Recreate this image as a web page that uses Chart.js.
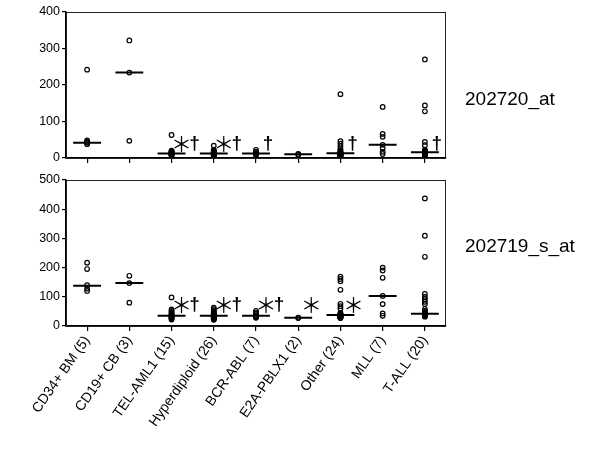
<!DOCTYPE html>
<html>
<head>
<meta charset="utf-8">
<script src="https://cdn.jsdelivr.net/npm/chart.js@4.4.1/dist/chart.umd.min.js"></script>
<style>
  html, body { margin: 0; padding: 0; background: #fff; }
  #wrap { position: relative; width: 600px; height: 450px; }
  canvas { position: absolute; left: 0; top: 0; }
</style>
</head>
<body>
<div id="wrap">
  <canvas id="c1" width="600" height="450"></canvas>
  <canvas id="c2" width="600" height="450"></canvas>
</div>
<script>
// ---- Data ----
const categories = ['CD34+ BM (5)', 'CD19+ CB (3)', 'TEL-AML1 (15)', 'Hyperdiploid (26)', 'BCR-ABL (7)', 'E2A-PBLX1 (2)', 'Other (24)', 'MLL (7)', 'T-ALL (20)'];

const probeTop = '202720_at';
const probeBottom = '202719_s_at';

// 202720_at values per group
const top_CD34 = [242, 48, 44, 42, 38];
const top_CD19 = [322, 234, 47];
const top_TEL = [63, 20, 18, 17, 16, 15, 14, 13, 12, 12, 11, 10, 9, 8, 6];
const top_Hyper = [34, 22, 20, 19, 18, 17, 16, 15, 15, 14, 13, 13, 12, 12, 12, 11, 11, 10, 10, 9, 9, 8, 7, 7, 6, 5];
const top_BCR = [22, 17, 14, 12, 11, 10, 8];
const top_E2A = [11, 9];
const top_Other = [175, 46, 39, 32, 25, 21, 18, 16, 15, 14, 13, 13, 12, 12, 11, 10, 10, 9, 8, 8, 7, 6, 5, 4];
const top_MLL = [140, 66, 58, 36, 27, 17, 11];
const top_TALL = [270, 144, 128, 44, 35, 22, 20, 18, 17, 16, 16, 15, 14, 13, 12, 11, 10, 9, 8, 7];
const topMedians = [42, 234, 12, 12, 12, 10, 13, 36, 16];

// 202719_s_at values per group
const bot_CD34 = [217, 195, 140, 128, 120];
const bot_CD19 = [172, 147, 80];
const bot_TEL = [98, 57, 52, 48, 44, 40, 38, 36, 35, 33, 31, 29, 27, 25, 22];
const bot_Hyper = [63, 58, 54, 50, 47, 45, 43, 41, 40, 38, 37, 36, 35, 35, 34, 33, 32, 31, 30, 29, 28, 27, 26, 25, 23, 21];
const bot_BCR = [52, 47, 43, 36, 34, 31, 28];
const bot_E2A = [29, 27];
const bot_Other = [169, 161, 153, 124, 76, 68, 60, 45, 42, 40, 39, 38, 38, 37, 36, 35, 34, 33, 32, 31, 30, 29, 28, 27];
const bot_MLL = [200, 190, 165, 103, 75, 43, 35];
const bot_TALL = [437, 309, 237, 110, 100, 92, 83, 75, 58, 52, 48, 45, 43, 42, 41, 40, 39, 37, 35, 32];
const botMedians = [138, 147, 35, 35, 35, 28, 38, 103, 42];

const topTicks = [0, 100, 200, 300, 400];
const botTicks = [0, 100, 200, 300, 400, 500];

// significance marks (category indices)
const topStars = [2, 3];
const topDaggers = [2, 3, 4, 6, 8];
const botStars = [2, 3, 4, 5, 6];
const botDaggers = [2, 3, 4];
const topMarkLevel = 41;
const botMarkLevel = 75;

const topGroups = [top_CD34, top_CD19, top_TEL, top_Hyper, top_BCR, top_E2A, top_Other, top_MLL, top_TALL];
const botGroups = [bot_CD34, bot_CD19, bot_TEL, bot_Hyper, bot_BCR, bot_E2A, bot_Other, bot_MLL, bot_TALL];

const FONT = '"Liberation Sans", Arial, Helvetica, sans-serif';

function pointsData(groups) {
  const out = [];
  groups.forEach((g, i) => g.forEach(v => out.push({ x: i, y: v })));
  return out;
}
function medianData(meds) {
  const out = [];
  meds.forEach((m, i) => {
    out.push({ x: i - 0.33, y: m });
    out.push({ x: i + 0.33, y: m });
    out.push({ x: i, y: null });
  });
  return out;
}

const framePlugin = {
  id: 'frame',
  afterDraw(chart) {
    const { ctx, chartArea: a } = chart;
    ctx.save();
    ctx.strokeStyle = '#222';
    ctx.lineWidth = 1;
    ctx.strokeRect(a.left + 0.5, a.top + 0.5, a.right - a.left - 1, a.bottom - a.top);
    ctx.restore();
  }
};

function marksPlugin(stars, daggers, level) {
  return {
    id: 'marks',
    afterDatasetsDraw(chart) {
      const { ctx } = chart;
      const xs = chart.scales.x, ys = chart.scales.y;
      const py = ys.getPixelForValue(level);
      ctx.save();
      ctx.fillStyle = '#000';
      ctx.textAlign = 'center';
      ctx.textBaseline = 'middle';
      categories.forEach((c, i) => {
        const hasS = stars.includes(i), hasD = daggers.includes(i);
        const cx = xs.getPixelForValue(i);
        if (hasS) {
          ctx.font = '400 21px "Noto Sans CJK SC", "Noto Sans CJK JP", sans-serif';
          ctx.fillText('\uFF0A', cx + (hasD ? 10 : 13), py + 1);
        }
        if (hasD) {
          ctx.font = 'bold 19px ' + FONT;
          ctx.fillText('\u2020', cx + (hasS ? 23 : 12), py + 1);
        }
      });
      ctx.restore();
    }
  };
}

const labelPlugin = {
  id: 'probeLabels',
  afterDraw(chart) {
    const { ctx } = chart;
    ctx.save();
    ctx.fillStyle = '#000';
    ctx.font = '19px ' + FONT;
    ctx.textAlign = 'left';
    ctx.textBaseline = 'alphabetic';
    ctx.fillText(probeTop, 465, 105);
    ctx.fillText(probeBottom, 465, 252);
    ctx.restore();
  }
};

function makeChart(canvasId, groups, medians, ticksArr, showLabels, padTop, xHeight, extraPlugins) {
  return new Chart(document.getElementById(canvasId), {
    data: {
      datasets: [
        {
          type: 'line',
          data: medianData(medians),
          borderColor: '#000',
          borderWidth: 2,
          pointRadius: 0,
          spanGaps: false,
          fill: false
        },
        {
          type: 'scatter',
          data: pointsData(groups),
          pointRadius: 2.3,
          borderWidth: 1.2,
          borderColor: '#000',
          backgroundColor: 'rgba(255,255,255,0)'
        }
      ]
    },
    options: {
      responsive: false,
      animation: false,
      devicePixelRatio: 1,
      layout: { padding: { left: 0, top: padTop, right: 154, bottom: 0 } },
      plugins: { legend: { display: false }, tooltip: { enabled: false } },
      scales: {
        x: {
          type: 'linear',
          min: -0.5,
          max: 8.5,
          afterBuildTicks: s => { s.ticks = categories.map((c, i) => ({ value: i })); },
          afterFit: s => { s.height = xHeight; },
          ticks: {
            display: showLabels,
            autoSkip: false,
            maxRotation: 55,
            minRotation: 55,
            padding: 2,
            color: '#000',
            font: { family: FONT, size: 14 },
            callback: v => categories[v]
          },
          grid: { drawOnChartArea: false, drawTicks: true, tickLength: 5, color: '#000', lineWidth: 1.2 },
          border: { color: '#000', width: 1.5 }
        },
        y: {
          min: ticksArr[0],
          max: ticksArr[ticksArr.length - 1],
          afterBuildTicks: s => { s.ticks = ticksArr.map(v => ({ value: v })); },
          afterFit: s => { s.width = 66; },
          ticks: {
            color: '#000',
            padding: 2,
            font: { family: FONT, size: 12.5 }
          },
          grid: { drawOnChartArea: false, drawTicks: true, tickLength: 4, color: '#000', lineWidth: 1.2 },
          border: { color: '#000', width: 1.5 }
        }
      }
    },
    plugins: [framePlugin].concat(extraPlugins)
  });
}

makeChart('c1', topGroups, topMedians, topTicks, false, 12, 292, [marksPlugin(topStars, topDaggers, topMarkLevel), labelPlugin]);
makeChart('c2', botGroups, botMedians, botTicks, true, 180, 124, [marksPlugin(botStars, botDaggers, botMarkLevel)]);
</script>
</body>
</html>
